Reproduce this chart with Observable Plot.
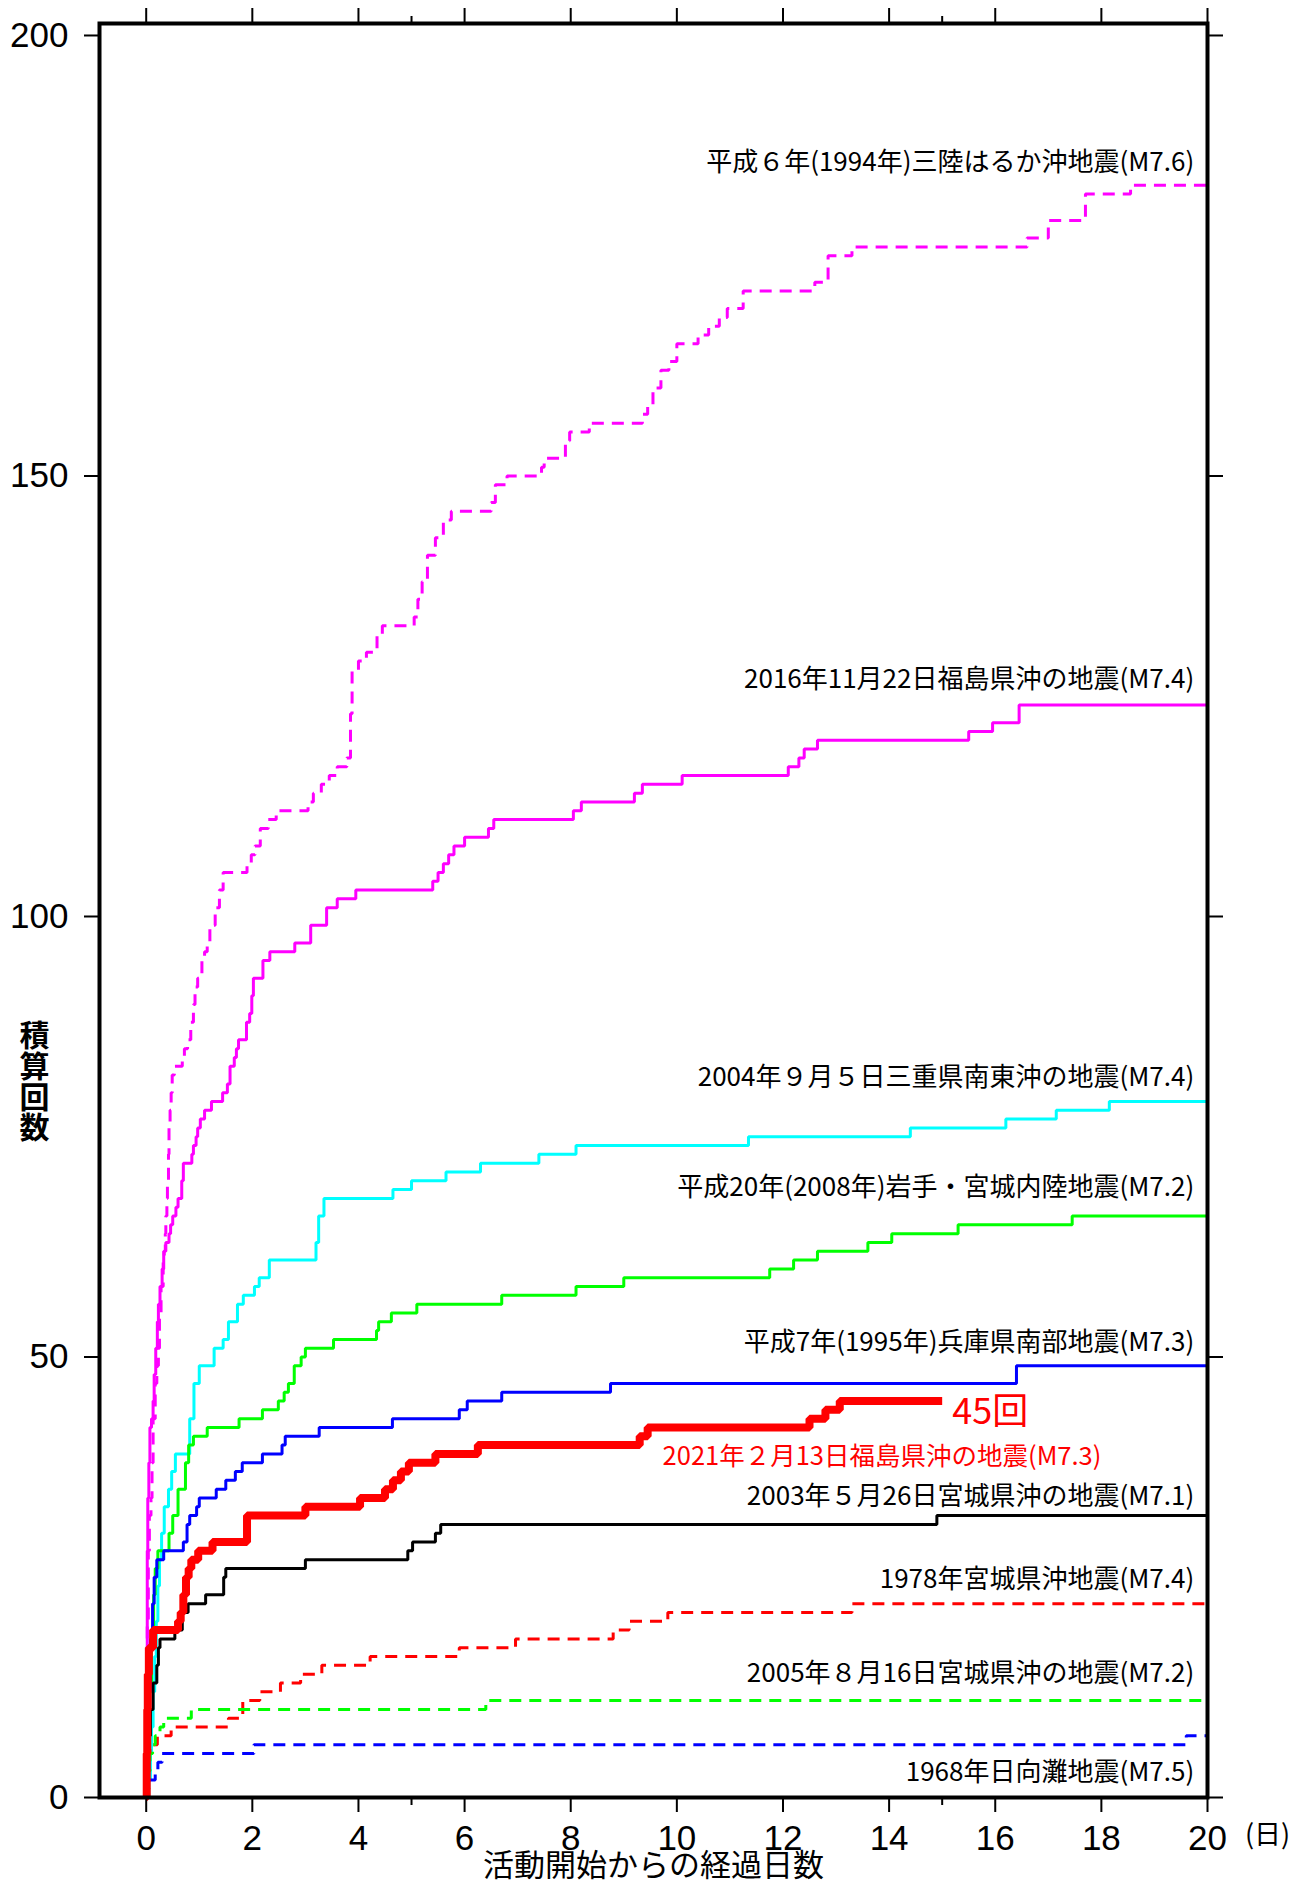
<!DOCTYPE html>
<html><head><meta charset="utf-8">
<script src="https://cdn.jsdelivr.net/npm/d3@7"></script>
<script src="https://cdn.jsdelivr.net/npm/@observablehq/plot@0.6"></script>
<style>body{margin:0;background:#fff}svg{display:block}</style>
</head><body><div id="chart"></div>
<script>
// [days since start, cumulative count] — step-after
const sanriku1994 = [[0,0],[0.01,10],[0.02,20],[0.04,28],[0.06,32],[0.09,34],[0.11,38],[0.13,43],[0.17,47],[0.2,49],[0.23,51],[0.25,55],[0.28,58],[0.32,61],[0.34,62],[0.36,64],[0.37,66],[0.39,68],[0.4,70],[0.42,73],[0.43,76],[0.45,78],[0.47,80],[0.49,82],[0.53,83],[0.68,84],[0.72,85],[0.78,86],[0.84,88],[0.89,90],[0.92,92],[0.97,93],[1.05,95],[1.1,96],[1.15,97],[1.2,99],[1.3,101],[1.38,103],[1.45,105],[1.9,106],[1.98,107],[2.05,108],[2.15,110],[2.3,111],[2.45,112],[3.05,113],[3.15,114],[3.3,115],[3.45,116],[3.6,117],[3.78,118],[3.85,123],[3.88,128],[4.0,129],[4.15,130],[4.35,132],[4.45,133],[5.05,134],[5.12,136],[5.2,138],[5.3,141],[5.45,143],[5.6,145],[5.75,146],[6.5,147],[6.58,149],[6.8,150],[7.45,151],[7.5,152],[7.9,154],[7.98,155],[8.35,156],[9.35,157],[9.45,158],[9.55,160],[9.7,162],[9.85,163],[10.0,165],[10.4,166],[10.6,167],[10.8,168],[10.95,169],[11.25,171],[12.6,172],[12.85,175],[13.3,176],[16.6,177],[17.0,179],[17.7,182],[18.55,183],[20,183]];
const fukushima2016 = [[0,0],[0.01,15],[0.02,28],[0.03,34],[0.05,38],[0.07,42],[0.1,43],[0.13,45],[0.15,48],[0.18,51],[0.21,54],[0.23,56],[0.26,58],[0.3,60],[0.33,62],[0.37,63],[0.43,64],[0.46,65],[0.5,66],[0.56,67],[0.6,68],[0.67,70],[0.7,72],[0.86,73],[0.89,74],[0.94,75],[0.97,76],[1.02,77],[1.1,78],[1.23,79],[1.44,80],[1.53,81],[1.58,83],[1.66,84],[1.7,85],[1.74,86],[1.89,88],[1.95,89],[1.99,91],[2.02,93],[2.2,95],[2.33,96],[2.8,97],[3.1,99],[3.4,101],[3.6,102],[3.95,103],[5.4,104],[5.5,105],[5.6,106],[5.7,107],[5.8,108],[6.0,109],[6.45,110],[6.55,111],[8.05,112],[8.2,113],[9.2,114],[9.35,115],[10.1,116],[12.1,117],[12.3,118],[12.4,119],[12.65,120],[15.5,121],[15.95,122],[16.45,124],[20,124]];
const mie2004 = [[0,0],[0.05,2],[0.08,5],[0.1,8],[0.13,12],[0.16,16],[0.19,20],[0.22,24],[0.25,27],[0.29,30],[0.34,33],[0.42,35],[0.48,37],[0.55,39],[0.82,43],[0.9,47],[1.0,49],[1.28,51],[1.45,52],[1.55,54],[1.72,56],[1.83,57],[2.04,58],[2.13,59],[2.32,61],[3.2,63],[3.25,66],[3.35,68],[4.65,69],[5.0,70],[5.65,71],[6.3,72],[7.4,73],[8.1,74],[11.35,75],[14.4,76],[16.2,77],[17.15,78],[18.15,79],[20,79]];
const iwateMiyagi2008 = [[0,0],[0.03,5],[0.06,12],[0.1,18],[0.14,23],[0.17,26],[0.22,28],[0.43,30],[0.5,32],[0.6,35],[0.74,38],[0.8,40],[0.89,41],[1.15,42],[1.75,43],[2.19,44],[2.49,45],[2.6,46],[2.68,47],[2.79,49],[2.92,50],[3.0,51],[3.53,52],[4.34,53],[4.38,54],[4.62,55],[5.1,56],[6.7,57],[8.1,58],[9.0,59],[11.75,60],[12.2,61],[12.65,62],[13.6,63],[14.05,64],[15.3,65],[17.45,66],[20,66]];
const hyogo1995 = [[0,0],[0.02,5],[0.05,12],[0.08,18],[0.12,22],[0.15,25],[0.2,27],[0.33,28],[0.7,29],[0.77,31],[0.82,32],[0.95,33],[1.0,34],[1.32,35],[1.5,36],[1.68,37],[1.81,38],[2.19,39],[2.56,40],[2.62,41],[3.26,42],[4.64,43],[5.9,44],[6.05,45],[6.7,46],[8.75,47],[16.4,49],[20,49]];
const fukushima2021 = [[0,0],[0.01,5],[0.02,10],[0.03,14],[0.05,17],[0.13,19],[0.6,20],[0.65,21],[0.7,23],[0.75,25],[0.8,26],[0.85,27],[0.98,28],[1.25,29],[1.9,32],[3.0,33],[4.03,34],[4.5,35],[4.65,36],[4.8,37],[4.95,38],[5.45,39],[6.25,40],[9.3,41],[9.45,42],[12.5,43],[12.8,44],[13.07,45],[15.0,45]];
const miyagi2003 = [[0,0],[0.02,3],[0.05,7],[0.08,10],[0.13,13],[0.2,15],[0.23,17],[0.26,18],[0.54,19],[0.68,21],[0.79,22],[1.12,23],[1.46,25],[1.5,26],[3.0,27],[4.93,28],[5.02,29],[5.45,30],[5.55,31],[14.9,32],[20,32]];
const miyagi1978 = [[0,0],[0.02,3],[0.05,5],[0.07,6],[0.21,7],[0.47,8],[1.55,9],[1.82,11],[2.14,12],[2.53,13],[2.91,14],[3.31,15],[4.22,16],[5.9,17],[6.96,18],[8.8,19],[9.1,20],[9.83,21],[13.3,22],[20,22]];
const miyagi2005 = [[0,0],[0.03,3],[0.07,5],[0.12,6],[0.17,7],[0.26,8],[0.33,9],[0.85,10],[6.4,11],[20,11]];
const hyuganada1968 = [[0,0],[0.04,1],[0.05,2],[0.17,3],[0.22,4],[0.3,5],[2.03,6],[19.6,7],[20,7]];

const seriesNames = [
  "平成６年(1994年)三陸はるか沖地震(M7.6)",
  "2016年11月22日福島県沖の地震(M7.4)",
  "2004年９月５日三重県南東沖の地震(M7.4)",
  "平成20年(2008年)岩手・宮城内陸地震(M7.2)",
  "平成7年(1995年)兵庫県南部地震(M7.3)",
  "2021年２月13日福島県沖の地震(M7.3)",
  "2003年５月26日宮城県沖の地震(M7.1)",
  "1978年宮城県沖地震(M7.4)",
  "2005年８月16日宮城県沖の地震(M7.2)",
  "1968年日向灘地震(M7.5)"
];
const xTicks = [0,2,4,6,8,10,12,14,16,18,20];
const xMinorTicks = [5,15];
const yTicks = [0,50,100,150,200];
const xTitle = "活動開始からの経過日数";
const yTitle = "積算回数";
const xUnit = "(日)";
const countSuffix = "回";

// styles (not data)
const seriesData = [sanriku1994, fukushima2016, mie2004, iwateMiyagi2008, hyogo1995, fukushima2021, miyagi2003, miyagi1978, miyagi2005, hyuganada1968];
const styles = [
  {stroke:"#ff00ff", w:3, dash:"12,8", dy:-23},
  {stroke:"#ff00ff", w:3, dash:null, dy:-25},
  {stroke:"#00ffff", w:3, dash:null, dy:-24},
  {stroke:"#00ff00", w:3, dash:null, dy:-28},
  {stroke:"#0000ff", w:3, dash:null, dy:-23},
  {stroke:"#ff0000", w:8, dash:null, dy:56},
  {stroke:"#000000", w:3, dash:null, dy:-19},
  {stroke:"#ff0000", w:3, dash:"12,8", dy:-24},
  {stroke:"#00ff00", w:3, dash:"12,8", dy:-27},
  {stroke:"#0000ff", w:3, dash:"12,8", dy:37}
];

const cjk = "'Noto Sans CJK JP', 'Noto Sans', sans-serif";
const marks = [];
const order = [0,1,2,3,4,6,7,8,9,5];
for (const i of order) {
  const s = styles[i];
  marks.push(Plot.line(seriesData[i], {x: d => d[0], y: d => d[1], curve: "step-after",
    stroke: s.stroke, strokeWidth: s.w, strokeDasharray: s.dash, strokeLinecap: "butt", strokeLinejoin: "miter"}));
}
// labels
seriesData.forEach((data, i) => {
  if (i === 5) return;
  const last = data[data.length - 1];
  marks.push(Plot.text([seriesNames[i]], {x: () => 19.75, y: () => last[1], dy: styles[i].dy,
    text: d => d, textAnchor: "end", fontSize: 26, fontFamily: cjk, fill: "#000"}));
});
{
  const data = fukushima2021, last = data[data.length - 1];
  marks.push(Plot.text([seriesNames[5]], {x: () => 18.0, y: () => last[1], dy: styles[5].dy,
    text: d => d, textAnchor: "end", fontSize: 25.5, fontFamily: cjk, fill: "#ff0000"}));
  marks.push(Plot.text([last[1] + countSuffix], {x: () => last[0], y: () => last[1], dx: 10, dy: 11,
    text: d => d, textAnchor: "start", fontSize: 36, fontFamily: cjk, fill: "#ff0000"}));
}
marks.push(Plot.frame({stroke: "#000", strokeWidth: 4}));
marks.push(Plot.axisY({ticks: yTicks, tickSize: 15, tickPadding: 16, strokeWidth: 2, label: null, fontSize: 35}));
marks.push(Plot.axisY({anchor: "right", ticks: yTicks, tickSize: 15, strokeWidth: 2, label: null, tickFormat: () => ""}));
marks.push(Plot.axisX({ticks: xTicks, tickSize: 15, tickPadding: 13, strokeWidth: 2, label: null, fontSize: 35}));
marks.push(Plot.axisX({anchor: "top", ticks: xTicks, tickSize: 16, strokeWidth: 2, label: null, tickFormat: () => ""}));
marks.push(Plot.axisX({ticks: xMinorTicks, tickSize: 8, strokeWidth: 2, label: null, tickFormat: () => ""}));
marks.push(Plot.axisX({anchor: "top", ticks: xMinorTicks, tickSize: 8, strokeWidth: 2, label: null, tickFormat: () => ""}));
marks.push(Plot.text([xUnit], {x: () => 20, y: () => 0, dx: 60, dy: 38, text: d => d, fontSize: 27, fontFamily: cjk}));
marks.push(Plot.text([xTitle], {frameAnchor: "bottom", dy: 78, text: d => d, fontSize: 31, fontFamily: cjk}));
marks.push(Plot.text([yTitle.split("").join("\n")], {frameAnchor: "left", textAnchor: "middle", dx: -65, dy: 172, text: d => d, lineHeight: 1.02, fontSize: 30, fontWeight: "bold", fontFamily: cjk}));

const chart = Plot.plot({
  width: 1291, height: 1885,
  marginLeft: 99, marginRight: 84, marginTop: 23, marginBottom: 88,
  style: {fontFamily: "'Liberation Sans', Arial, sans-serif", fontSize: "35px", background: "#fff", color: "#000"},
  x: {domain: [-0.88, 20]},
  y: {domain: [0, 201.36]},
  marks
});
document.getElementById("chart").appendChild(chart);
</script></body></html>
